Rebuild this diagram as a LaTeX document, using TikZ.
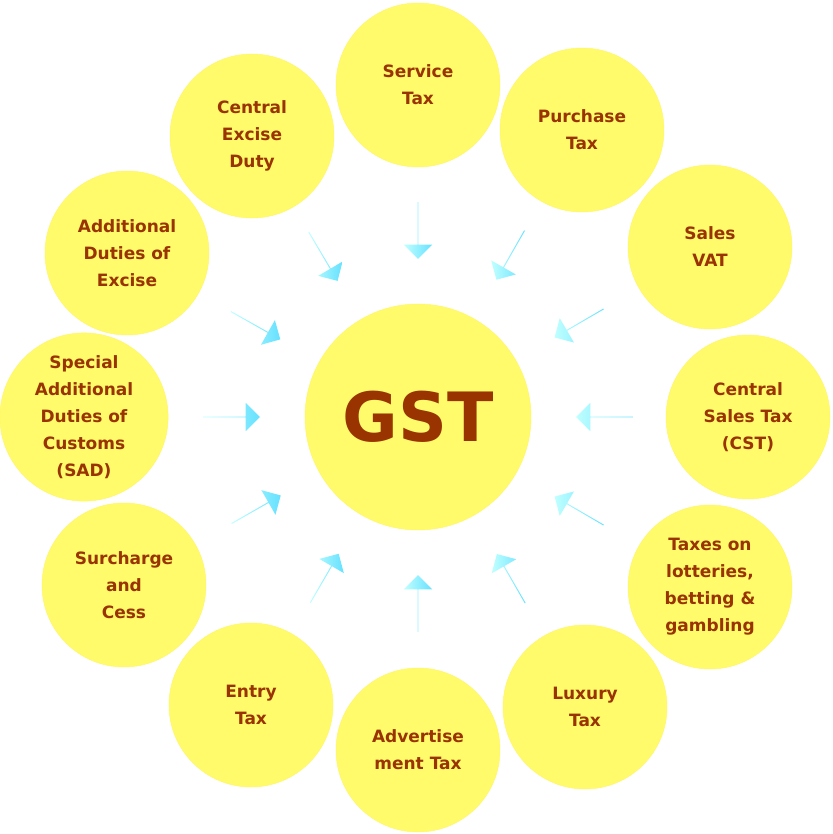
\documentclass[tikz,border=0pt]{standalone}
\usepackage{fontspec}
\setmainfont{DejaVu Sans}
\usetikzlibrary{calc,shapes.arrows}
\definecolor{taxtext}{HTML}{993300}
\definecolor{taxfill}{HTML}{FFFB6B}
\tikzset{
  taxcircle/.style={circle, fill=taxfill, draw=yellow!60!white, minimum size=4.92cm,
    align=center, text=taxtext, font=\bfseries\fontsize{14.5}{23}\selectfont},
  gstcircle/.style={taxcircle, minimum size=6.78cm, font=\bfseries\fontsize{58}{60}\selectfont},
  feedarrow/.style={single arrow, minimum height=1.7cm, minimum width=0.85cm,
    single arrow head extend=0.2cm, inner sep=0pt, draw=none,
    left color=cyan!25!white, right color=cyan!80!blue!60}
}
\begin{document}
\begin{tikzpicture}[x=0.03cm,y=-0.03cm]
    \useasboundingbox (0,0) rectangle (832,834);

    \node[gstcircle] (gst) at (418,417) {GST};

    % outer taxes
    \foreach \i/\x/\y/\txt in {
        1/418/85/{Service\\Tax},
        2/582/130/{Purchase\\Tax},
        3/710/247/{Sales\\VAT},
        4/748/417/{Central\\Sales Tax\\(CST)},
        5/710/587/{Taxes on\\lotteries,\\betting \&\\gambling},
        6/585/707/{Luxury\\Tax},
        7/418/750/{Advertise\\ment Tax},
        8/251/705/{Entry\\Tax},
        9/124/585/{Surcharge\\and\\Cess},
        10/84/417/{Special\\Additional\\Duties of\\Customs\\(SAD)},
        11/127/253/{Additional\\Duties of\\Excise},
        12/252/136/{Central\\Excise\\Duty}} {
        \node[taxcircle] (c\i) at (\x,\y) {\txt};
    }

    % arrows pointing to GST
    \foreach \i in {1,...,12} {
        \path let \p1 = ($(gst)-(c\i)$), \n1 = {atan2(\y1,\x1)} in
            node[feedarrow, rotate=\n1] (a\i) at ($(gst)!5.6cm!(c\i)$) {};
    }
\end{tikzpicture}
\end{document}
